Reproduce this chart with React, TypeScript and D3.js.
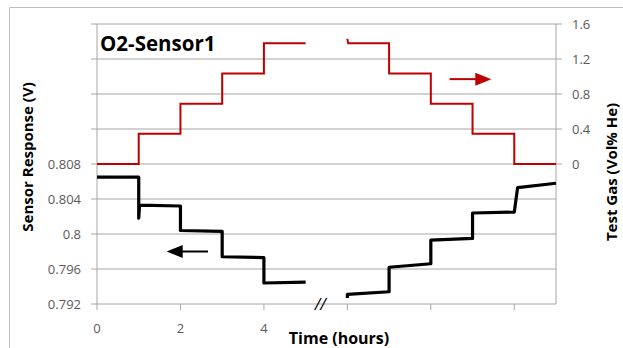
import React from 'react';
import * as d3 from 'd3';

// Test gas (Vol% He) step profile
const gasTimeUp = [0, 1, 1, 2, 2, 3, 3, 4, 4, 5];
const gasUp = [0, 0, 0.345, 0.345, 0.69, 0.69, 1.035, 1.035, 1.38, 1.38];
const gasTimeDown = [6, 6.02, 7, 7, 8, 8, 9, 9, 10, 10, 11];
const gasDown = [1.43, 1.38, 1.38, 1.035, 1.035, 0.69, 0.69, 0.345, 0.345, 0, 0];

// Sensor response (V)
const respTimeUp = [0, 1, 1, 1.02, 2, 2, 3, 3, 4, 4, 5];
const respUp = [0.8065, 0.8065, 0.8018, 0.8033, 0.8032, 0.8004, 0.8003, 0.7974, 0.7973, 0.7944, 0.7945];
const respTimeDown = [6, 6, 7, 7, 8, 8, 9, 9, 10, 10.08, 11];
const respDown = [0.7927, 0.7931, 0.7934, 0.7962, 0.7966, 0.7993, 0.7995, 0.8024, 0.8025, 0.8053, 0.8058];

const leftTicks = [0.792, 0.796, 0.8, 0.804, 0.808, 0.812, 0.816, 0.82, 0.824];
const leftLabels = ['0.792', '0.796', '0.8', '0.804', '0.808'];
const rightTicks = [0, 0.4, 0.8, 1.2, 1.6];
const rightLabels = ['0', '0.4', '0.8', '1.2', '1.6'];
const xTicks = [0, 2, 4, 6, 8, 10];
const xLabels = ['0', '2', '4'];

const W = 623;
const H = 348;
const m = { top: 24, left: 97, right: 67, bottom: 44 };
const font = "'Open Sans', 'Liberation Sans', sans-serif";

export default function App() {
  const pw = W - m.left - m.right;
  const ph = H - m.top - m.bottom;
  const x = d3.scaleLinear().domain([0, 11]).range([m.left, m.left + pw]);
  const yL = d3.scaleLinear().domain([0.792, 0.824]).range([m.top + ph, m.top]);
  const yR = d3.scaleLinear().domain([-1.6, 1.6]).range([m.top + ph, m.top]);

  const gasLine = (ts: number[], vs: number[]) =>
    d3.line<number>().x((_, i) => x(ts[i])).y((v) => yR(v))(vs) ?? '';
  const respLine = (ts: number[], vs: number[]) =>
    d3.line<number>().x((_, i) => x(ts[i])).y((v) => yL(v))(vs) ?? '';

  const grid = '#a6a6a6';
  const tickColor = '#595959';
  const red = '#c00000';
  const bottom = m.top + ph;
  const right = m.left + pw;

  // arrows
  const ra = { x0: x(8.45), x1: x(9.45), y: yR(0.97) };
  const ba = { x0: x(1.67), x1: x(2.66), y: yL(0.7980) };

  return (
    <svg width={W} height={H} style={{ position: 'absolute', left: 0, top: 0 }} fontFamily={font}>
      <rect x={0} y={0} width={W} height={H} fill="#fff" />
      <path d={`M9.5,${H} V7.5 H${W}`} fill="none" stroke="#bfbfbf" strokeWidth={1} />

      {leftTicks.map((t) => (
        <line key={'g' + t} x1={m.left - 6} x2={right} y1={yL(t)} y2={yL(t)} stroke={grid} strokeWidth={1} />
      ))}
      {rightTicks.map((t) => (
        <line key={'r' + t} x1={right} x2={right + 6} y1={yR(t)} y2={yR(t)} stroke={grid} strokeWidth={1} />
      ))}
      <line x1={m.left} x2={m.left} y1={m.top} y2={bottom} stroke={grid} />
      <line x1={right} x2={right} y1={m.top} y2={bottom} stroke={grid} />
      {xTicks.map((t) => (
        <line key={'x' + t} x1={x(t)} x2={x(t)} y1={bottom} y2={bottom + 6} stroke={grid} />
      ))}

      {leftLabels.map((l, i) => (
        <text key={l} x={m.left - 16} y={yL(leftTicks[i])} dy="0.35em" textAnchor="end" fontSize={13} fill={tickColor}>
          {l}
        </text>
      ))}
      {rightLabels.map((l, i) => (
        <text key={l} x={right + 16} y={yR(rightTicks[i])} dy="0.35em" textAnchor="start" fontSize={13} fill={tickColor}>
          {l}
        </text>
      ))}
      {xLabels.map((l, i) => (
        <text key={l} x={x(xTicks[i])} y={bottom + 24} dy="0.35em" textAnchor="middle" fontSize={13} fill={tickColor}>
          {l}
        </text>
      ))}

      <path d={gasLine(gasTimeUp, gasUp)} fill="none" stroke={red} strokeWidth={2} />
      <path d={gasLine(gasTimeDown, gasDown)} fill="none" stroke={red} strokeWidth={2} />
      <path d={respLine(respTimeUp, respUp)} fill="none" stroke="#000" strokeWidth={3.2} strokeLinejoin="round" />
      <path d={respLine(respTimeDown, respDown)} fill="none" stroke="#000" strokeWidth={3.2} strokeLinejoin="round" />

      <line x1={ra.x0} x2={ra.x1 - 12} y1={ra.y} y2={ra.y} stroke={red} strokeWidth={2} />
      <path d={`M${ra.x1},${ra.y} L${ra.x1 - 16},${ra.y - 6.5} L${ra.x1 - 16},${ra.y + 6.5} Z`} fill={red} />
      <line x1={ba.x0 + 12} x2={ba.x1} y1={ba.y} y2={ba.y} stroke="#000" strokeWidth={2} />
      <path d={`M${ba.x0},${ba.y} L${ba.x0 + 16},${ba.y - 6.5} L${ba.x0 + 16},${ba.y + 6.5} Z`} fill="#000" />

      <text x={x(5.35)} y={bottom + 6} textAnchor="middle" fontSize={16} fontStyle="italic" fill="#000">
        //
      </text>

      <text x={100} y={51} fontSize={20.5} fontWeight="bold" fill="#000">
        O2-Sensor1
      </text>
      <text x={339} y={344} textAnchor="middle" fontSize={16} fontWeight="bold" fill="#000">
        Time (hours)
      </text>
      <text transform="translate(33,157) rotate(-90)" textAnchor="middle" fontSize={15} fontWeight="bold" fill="#000">
        Sensor Response (V)
      </text>
      <text transform="translate(617,172) rotate(-90)" textAnchor="middle" fontSize={15} fontWeight="bold" fill="#000">
        Test Gas (Vol% He)
      </text>
    </svg>
  );
}
